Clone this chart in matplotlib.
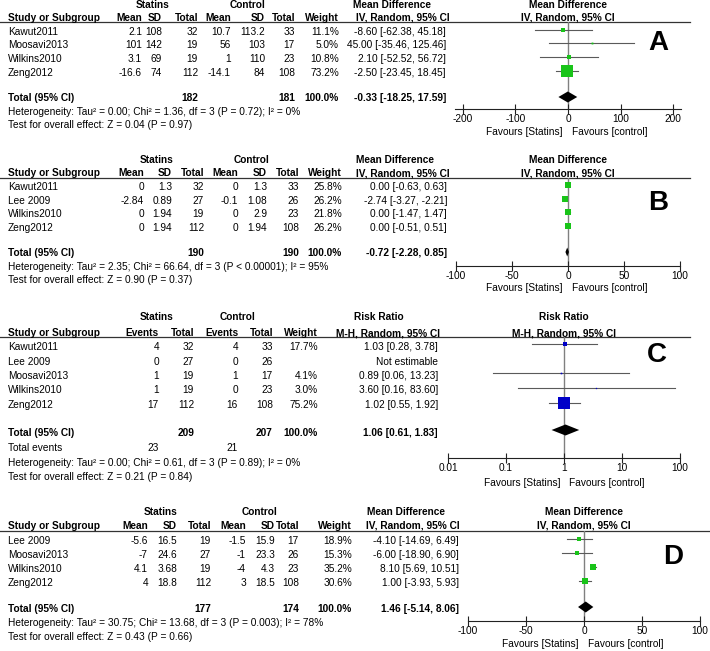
import matplotlib.pyplot as plt
import matplotlib.ticker as mticker

plt.rcParams['font.family'] = ['Liberation Sans', 'DejaVu Sans']
plt.rcParams['axes.unicode_minus'] = False

FS = 7.3
GREEN = '#19c419'
BLUE = '#0000c8'
CI_COL = '#5a5a5a'

# ---------------- data ----------------
# panel A
a_study = ['Kawut2011', 'Moosavi2013', 'Wilkins2010', 'Zeng2012']
a_st_mean = [2.1, 101, 3.1, -16.6]
a_st_sd = [108, 142, 69, 74]
a_st_n = [32, 19, 19, 112]
a_ct_mean = [10.7, 56, 1, -14.1]
a_ct_sd = [113.2, 103, 110, 84]
a_ct_n = [33, 17, 23, 108]
a_weight = [11.1, 5.0, 10.8, 73.2]
a_est = [-8.60, 45.00, 2.10, -2.50]
a_lo = [-62.38, -35.46, -52.52, -23.45]
a_hi = [45.18, 125.46, 56.72, 18.45]
a_total = [-0.33, -18.25, 17.59]
a_total_n = [182, 181]
a_het = 'Heterogeneity: Tau² = 0.00; Chi² = 1.36, df = 3 (P = 0.72); I² = 0%'
a_test = 'Test for overall effect: Z = 0.04 (P = 0.97)'

# panel B
b_study = ['Kawut2011', 'Lee 2009', 'Wilkins2010', 'Zeng2012']
b_st_mean = [0, -2.84, 0, 0]
b_st_sd = [1.3, 0.89, 1.94, 1.94]
b_st_n = [32, 27, 19, 112]
b_ct_mean = [0, -0.1, 0, 0]
b_ct_sd = [1.3, 1.08, 2.9, 1.94]
b_ct_n = [33, 26, 23, 108]
b_weight = [25.8, 26.2, 21.8, 26.2]
b_est = [0.00, -2.74, 0.00, 0.00]
b_lo = [-0.63, -3.27, -1.47, -0.51]
b_hi = [0.63, -2.21, 1.47, 0.51]
b_total = [-0.72, -2.28, 0.85]
b_total_n = [190, 190]
b_het = 'Heterogeneity: Tau² = 2.35; Chi² = 66.64, df = 3 (P < 0.00001); I² = 95%'
b_test = 'Test for overall effect: Z = 0.90 (P = 0.37)'

# panel C (risk ratio)
c_study = ['Kawut2011', 'Lee 2009', 'Moosavi2013', 'Wilkins2010', 'Zeng2012']
c_st_ev = [4, 0, 1, 1, 17]
c_st_n = [32, 27, 19, 19, 112]
c_ct_ev = [4, 0, 1, 0, 16]
c_ct_n = [33, 26, 17, 23, 108]
c_weight = [17.7, None, 4.1, 3.0, 75.2]
c_est = [1.03, None, 0.89, 3.60, 1.02]
c_lo = [0.28, None, 0.06, 0.16, 0.55]
c_hi = [3.78, None, 13.23, 83.60, 1.92]
c_total = [1.06, 0.61, 1.83]
c_total_n = [209, 207]
c_total_ev = [23, 21]
c_het = 'Heterogeneity: Tau² = 0.00; Chi² = 0.61, df = 3 (P = 0.89); I² = 0%'
c_test = 'Test for overall effect: Z = 0.21 (P = 0.84)'

# panel D
d_study = ['Lee 2009', 'Moosavi2013', 'Wilkins2010', 'Zeng2012']
d_st_mean = [-5.6, -7, 4.1, 4]
d_st_sd = [16.5, 24.6, 3.68, 18.8]
d_st_n = [19, 27, 19, 112]
d_ct_mean = [-1.5, -1, -4, 3]
d_ct_sd = [15.9, 23.3, 4.3, 18.5]
d_ct_n = [17, 26, 23, 108]
d_weight = [18.9, 15.3, 35.2, 30.6]
d_est = [-4.10, -6.00, 8.10, 1.00]
d_lo = [-14.69, -18.90, 5.69, -3.93]
d_hi = [6.49, 6.90, 10.51, 5.93]
d_total = [1.46, -5.14, 8.06]
d_total_n = [177, 174]
d_het = 'Heterogeneity: Tau² = 30.75; Chi² = 13.68, df = 3 (P = 0.003); I² = 78%'
d_test = 'Test for overall effect: Z = 0.43 (P = 0.66)'

md_ticks = [-100, -50, 0, 50, 100]
a_ticks = [-200, -100, 0, 100, 200]
rr_ticks = [0.01, 0.1, 1, 10, 100]

# ---------------- figure ----------------
W, H = 710, 651
fig = plt.figure(figsize=(W / 100, H / 100), dpi=100)
bg = fig.add_axes([0, 0, 1, 1])
bg.set_xlim(0, W)
bg.set_ylim(H, 0)
bg.axis('off')


def txt(x, y, s, ha='right', bold=False, size=FS):
    bg.text(x, y, s, ha=ha, va='center', fontsize=size,
            fontweight='bold' if bold else 'normal')


def fmt_ci(e, lo, hi):
    return f'{e:.2f} [{lo:.2f}, {hi:.2f}]'


def forest(x0, x1, y0, y1, xlim, ticks, zero, log=False):
    ax = fig.add_axes([x0 / W, 1 - y1 / H, (x1 - x0) / W, (y1 - y0) / H])
    ax.patch.set_alpha(0)
    if log:
        ax.set_xscale('log')
    ax.set_xlim(*xlim)
    ax.set_ylim(y1, y0)
    for s in ['top', 'left', 'right']:
        ax.spines[s].set_visible(False)
    ax.spines['bottom'].set_linewidth(0.8)
    ax.spines['bottom'].set_color('#222222')
    ax.xaxis.set_major_locator(mticker.FixedLocator(ticks))
    ax.xaxis.set_minor_locator(mticker.NullLocator())
    ax.set_xticklabels([f'{t:g}' for t in ticks])
    ax.tick_params(axis='x', direction='inout', length=7, width=0.8,
                   labelsize=FS, pad=0, color='#222222')
    ax.set_yticks([])
    ax.axvline(zero, color='#808080', lw=1.0, zorder=1)
    return ax


def studies(ax, rows, est, lo, hi, weight, color, max_side):
    wmax = max(w for w in weight if w is not None)
    for y, e, l, h, w in zip(rows, est, lo, hi, weight):
        if e is None:
            continue
        y = y - 2.5  # marks sit slightly above the text row
        ax.plot([l, h], [y, y], color=CI_COL, lw=0.8, zorder=2)
        side = max_side * (w / wmax) ** 0.7
        ax.plot([e], [y], marker='s', ms=side * 0.72, color=color,
                mew=0, ls='none', zorder=3)


def diamond(ax, y, tot, half=5.5):
    e, l, h = tot
    ax.fill([l, e, h, e], [y, y - half, y, y + half], color='black',
            lw=0, zorder=4)


def md_table(cols, rows, top, hdr, line_y, line_x1, study, stm, sts, stn,
             ctm, cts, ctn, wt, est, lo, hi, tot_y, tot, tot_n, het_y, het,
             test_y, test, st_c, ct_c, ci_c1, ci_c2, fc, favours_y):
    c_m, c_s, c_n, k_m, k_s, k_n, c_w, c_ci = cols
    txt(st_c, top, 'Statins', ha='center', bold=True)
    txt(ct_c, top, 'Control', ha='center', bold=True)
    txt(ci_c1, top, 'Mean Difference', ha='center', bold=True)
    txt(fc, top, 'Mean Difference', ha='center', bold=True)
    txt(8, hdr, 'Study or Subgroup', ha='left', bold=True)
    for x, s in [(c_m, 'Mean'), (c_s, 'SD'), (c_n, 'Total'), (k_m, 'Mean'),
                 (k_s, 'SD'), (k_n, 'Total'), (c_w, 'Weight')]:
        txt(x, hdr, s, bold=True)
    txt(ci_c2, hdr, 'IV, Random, 95% CI', ha='center', bold=True)
    txt(fc, hdr, 'IV, Random, 95% CI', ha='center', bold=True)
    bg.plot([0, line_x1], [line_y, line_y], color='#333333', lw=0.9)
    for i, y in enumerate(rows):
        txt(8, y, study[i], ha='left')
        txt(c_m, y, f'{stm[i]:g}')
        txt(c_s, y, f'{sts[i]:g}')
        txt(c_n, y, f'{stn[i]}')
        txt(k_m, y, f'{ctm[i]:g}')
        txt(k_s, y, f'{cts[i]:g}')
        txt(k_n, y, f'{ctn[i]}')
        txt(c_w, y, f'{wt[i]:.1f}%')
        txt(c_ci, y, fmt_ci(est[i], lo[i], hi[i]))
    txt(8, tot_y, 'Total (95% CI)', ha='left', bold=True)
    txt(c_n, tot_y, f'{tot_n[0]}', bold=True)
    txt(k_n, tot_y, f'{tot_n[1]}', bold=True)
    txt(c_w, tot_y, '100.0%', bold=True)
    txt(c_ci, tot_y, fmt_ci(*tot), bold=True)
    txt(8, het_y, het, ha='left')
    txt(8, test_y, test, ha='left')
    txt(fc - 5, favours_y, 'Favours [Statins]', ha='right')
    txt(fc + 4, favours_y, 'Favours [control]', ha='left')


# ---- panel A ----
a_rows = [32, 45, 59, 73]
md_table([142, 162, 198, 231, 265, 295, 339, 446], a_rows, 5, 18, 22, 690,
         a_study, a_st_mean, a_st_sd, a_st_n, a_ct_mean, a_ct_sd, a_ct_n,
         a_weight, a_est, a_lo, a_hi, 98, a_total, a_total_n, 112, a_het,
         125, a_test, 153, 248, 392, 403, 568, 132)
ax = forest(455, 681, 22, 109, (-215.2, 215.2), a_ticks, 0)
studies(ax, a_rows, a_est, a_lo, a_hi, a_weight, GREEN, 12)
diamond(ax, 97, a_total)
txt(658, 43, 'A', ha='center', bold=True, size=20)

# ---- panel B ----
b_rows = [187, 201, 214, 228]
md_table([144, 172, 204, 238, 267, 299, 342, 447], b_rows, 160, 173, 178, 690,
         b_study, b_st_mean, b_st_sd, b_st_n, b_ct_mean, b_ct_sd, b_ct_n,
         b_weight, b_est, b_lo, b_hi, 253, b_total, b_total_n, 267, b_het,
         280, b_test, 157, 252, 395, 403, 568, 288)
ax = forest(456, 680, 178, 266, (-100, 100), md_ticks, 0)
studies(ax, b_rows, b_est, b_lo, b_hi, b_weight, GREEN, 6)
diamond(ax, 252, b_total, half=4.5)
txt(658, 203, 'B', ha='center', bold=True, size=20)

# ---- panel C ----
c_rows = [347, 362, 376, 390, 405]
txt(157, 317, 'Statins', ha='center', bold=True)
txt(237, 317, 'Control', ha='center', bold=True)
txt(379, 317, 'Risk Ratio', ha='center', bold=True)
txt(564, 317, 'Risk Ratio', ha='center', bold=True)
txt(8, 333, 'Study or Subgroup', ha='left', bold=True)
for x, s in [(159, 'Events'), (194, 'Total'), (238, 'Events'), (273, 'Total'),
             (318, 'Weight')]:
    txt(x, 333, s, bold=True)
txt(388, 333, 'M-H, Random, 95% CI', ha='center', bold=True)
txt(564, 333, 'M-H, Random, 95% CI', ha='center', bold=True)
bg.plot([0, 690], [337, 337], color='#333333', lw=0.9)
for i, y in enumerate(c_rows):
    txt(8, y, c_study[i], ha='left')
    txt(159, y, f'{c_st_ev[i]}')
    txt(194, y, f'{c_st_n[i]}')
    txt(238, y, f'{c_ct_ev[i]}')
    txt(273, y, f'{c_ct_n[i]}')
    if c_est[i] is None:
        txt(438, y, 'Not estimable')
    else:
        txt(318, y, f'{c_weight[i]:.1f}%')
        txt(438, y, fmt_ci(c_est[i], c_lo[i], c_hi[i]))
txt(8, 433, 'Total (95% CI)', ha='left', bold=True)
txt(194, 433, f'{c_total_n[0]}', bold=True)
txt(273, 433, f'{c_total_n[1]}', bold=True)
txt(318, 433, '100.0%', bold=True)
txt(438, 433, fmt_ci(*c_total), bold=True)
txt(8, 448, 'Total events', ha='left')
txt(159, 448, f'{c_total_ev[0]}')
txt(238, 448, f'{c_total_ev[1]}')
txt(8, 463, c_het, ha='left')
txt(8, 477, c_test, ha='left')
txt(561, 483, 'Favours [Statins]', ha='right')
txt(569, 483, 'Favours [control]', ha='left')
ax = forest(448, 680, 337, 458, (0.01, 100), rr_ticks, 1, log=True)
studies(ax, c_rows, c_est, c_lo, c_hi, c_weight, BLUE, 12)
diamond(ax, 430, c_total)
txt(657, 355, 'C', ha='center', bold=True, size=20)

# ---- panel D ----
d_rows = [541, 555, 569, 583]
md_table([148, 177, 211, 246, 275, 299, 352, 459], d_rows, 512, 526, 531, 710,
         d_study, d_st_mean, d_st_sd, d_st_n, d_ct_mean, d_ct_sd, d_ct_n,
         d_weight, d_est, d_lo, d_hi, 609, d_total, d_total_n, 623, d_het,
         637, d_test, 161, 260, 406, 413, 584, 644)
ax = forest(468, 700, 531, 621, (-100, 100), md_ticks, 0)
studies(ax, d_rows, d_est, d_lo, d_hi, d_weight, GREEN, 6.5)
diamond(ax, 607, d_total)
txt(673, 557, 'D', ha='center', bold=True, size=20)

fig.savefig('out.png', dpi=100)
